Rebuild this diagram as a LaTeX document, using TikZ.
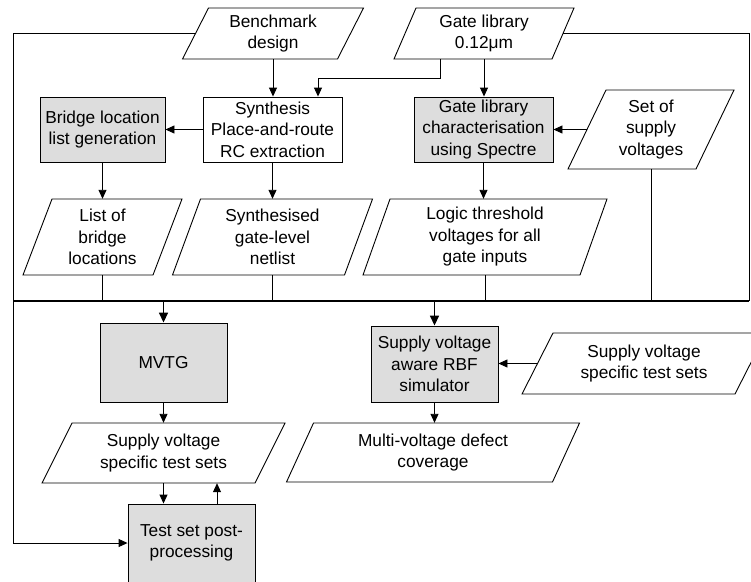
\documentclass[tikz,border=0pt]{standalone}
\usepackage{fontspec}
\setmainfont{Liberation Sans}
\usetikzlibrary{arrows.meta,calc}
\definecolor{boxgray}{RGB}{221,221,221}
\newcommand\mkpara[7]{%
  \draw[parastyle] ({#2-(#4+#6)/2},{#3+#5/2}) -- ({#2+(#4-#6)/2},{#3+#5/2}) -- ({#2+(#4+#6)/2},{#3-#5/2}) -- ({#2-(#4-#6)/2},{#3-#5/2}) -- cycle;
  \node[minimum width=#4pt, minimum height=#5pt] (#1) at (#2,#3) {#7};
}
\begin{document}
\begin{tikzpicture}[x=1pt,y=-1pt,
  every node/.style={font=\fontsize{17.3}{21.5}\selectfont, align=center, inner sep=0pt},
  parastyle/.style={draw=black, fill=white, line width=0.9pt},
  gbox/.style={draw=black, fill=boxgray, line width=0.9pt},
  wbox/.style={draw=black, fill=white, line width=0.9pt},
  ln/.style={draw=black, line width=0.9pt},
  arr/.style={ln, -{Triangle[length=9pt,width=8pt]}},
  bus/.style={draw=black, line width=1.6pt},
  busarr/.style={bus, -{Triangle[length=10pt,width=9pt]}}
]
\useasboundingbox (0,0) rectangle (751,581);
\clip (0,0) rectangle (751,581);

% parallelograms (data)
\mkpara{bench}{273}{33.5}{155}{51}{26}{Benchmark\\design}
\mkpara{glib}{484}{33.5}{158}{51}{22}{Gate library\\0.12μm}
\mkpara{svs}{651}{129.5}{128}{79}{38}{Set of\\supply\\voltages}
\mkpara{lbl}{102.5}{237}{130}{76}{29}{List of\\bridge\\locations}
\mkpara{sgn}{272.5}{237}{172}{76}{28}{Synthesised\\gate-level\\netlist}
\mkpara{ltv}{485}{237}{217}{76}{27}{Logic threshold\\voltages for all\\gate inputs}
\mkpara{svsl}{163.5}{453}{213}{60}{30}{Supply voltage\\specific test sets}
\mkpara{svsr}{644}{363.5}{213}{61}{31}{Supply voltage\\specific test sets}
\mkpara{mvdc}{433}{452.5}{266}{59}{27}{Multi-voltage defect\\coverage}

% process boxes
\node[gbox, minimum width=125pt, minimum height=65pt] (blg) at (102.5,129.5) {Bridge location\\list generation};
\node[wbox, minimum width=139pt, minimum height=65pt] (syn) at (272.5,129.5) {Synthesis\\Place-and-route\\RC extraction};
\node[gbox, minimum width=139pt, minimum height=65pt] (glc) at (483.5,129.5) {Gate library\\characterisation\\using Spectre};
\node[gbox, minimum width=127pt, minimum height=79pt] (mvtg) at (163.5,362.5) {MVTG};
\node[gbox, minimum width=127pt, minimum height=76pt] (rbf) at (434.5,364) {Supply voltage\\aware RBF\\simulator};
\node[gbox, minimum width=127pt, minimum height=78pt] (tsp) at (191.5,543) {Test set post-\\processing};

\coordinate (bl) at (13,301);
\coordinate (br) at (749,301);
\coordinate (lx) at (13,0);

% frame
\draw[arr] (bench.west) -| (lx |- tsp.west) -- (tsp.west);
\draw[ln] (glib.east) -| (br);
\draw[bus] (br) -- (bl);

% drops to bus
\draw[ln] (lbl.south) -- (lbl.south |- bl);
\draw[ln] (sgn.south) -- (sgn.south |- bl);
\draw[ln] (ltv.south) -- (ltv.south |- bl);
\draw[ln] (svs.south) -- (svs.south |- bl);
\draw[busarr] (mvtg.north |- bl) -- (mvtg.north);
\draw[busarr] (rbf.north |- bl) -- (rbf.north);

% connectors
\draw[arr] (bench.south) -- (bench.south |- syn.north);
\draw[arr] (glib.south) -- (glib.south |- glc.north);
\draw[arr] ([xshift=-44pt]glib.south) -- ++(0,19) -| ([xshift=45.5pt]syn.north);
\draw[arr] (syn.west) -- (blg.east);
\draw[arr] (blg.south) -- (lbl.north);
\draw[arr] (syn.south) -- (sgn.north);
\draw[arr] (glc.south) -- (glc.south |- ltv.north);
\draw[arr] (svs.west) -- (svs.west -| glc.east);
\draw[arr] (mvtg.south) -- (svsl.north);
\draw[arr] (svsl.south) -- (svsl.south |- tsp.north);
\draw[arr] ([xshift=25.5pt]tsp.north) -- ([xshift=25.5pt]tsp.north |- svsl.south);
\draw[arr] (svsr.west) -- (svsr.west -| rbf.east);
\draw[arr] (rbf.south) -- (rbf.south |- mvdc.north);
\end{tikzpicture}
\end{document}
